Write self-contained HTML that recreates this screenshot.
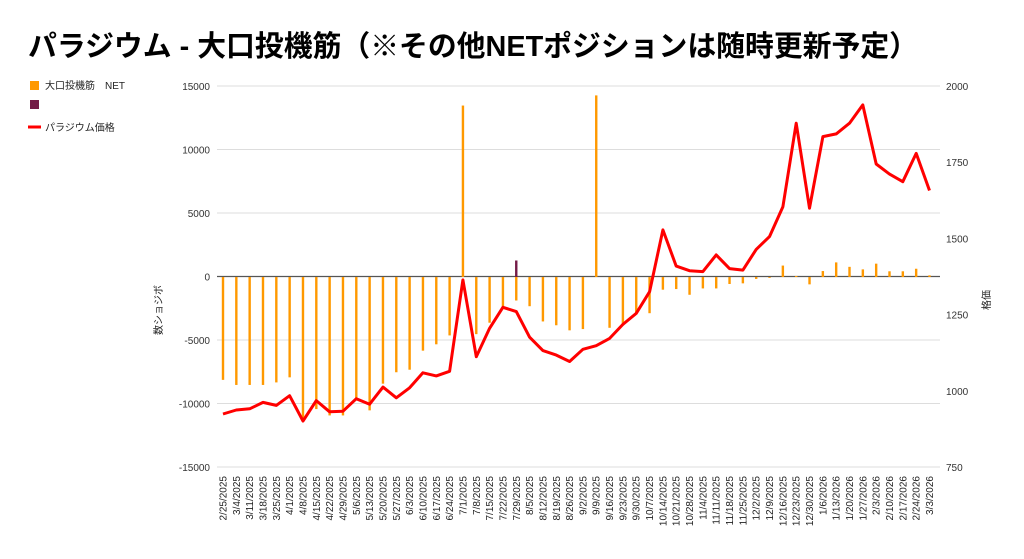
<!DOCTYPE html>
<html><head><meta charset="utf-8"><style>
body{margin:0;background:#fff;width:1024px;height:554px;overflow:hidden;font-family:"Liberation Sans","Noto Sans CJK JP",sans-serif}
</style></head><body>
<svg id="s" width="1024" height="554" xmlns="http://www.w3.org/2000/svg" font-family="Liberation Sans, Noto Sans CJK JP, sans-serif">
<text x="28" y="56" font-size="29" font-weight="bold" fill="#000" textLength="890" lengthAdjust="spacingAndGlyphs">パラジウム - 大口投機筋（※その他NETポジションは随時更新予定）</text>
<rect x="30" y="81" width="9" height="9" fill="#ff9900"/>
<text x="45" y="89" font-size="10" fill="#222">大口投機筋　NET</text>
<rect x="30" y="100" width="9" height="9" fill="#741b47"/>
<line x1="28" y1="127" x2="41" y2="127" stroke="#ff0000" stroke-width="3"/>
<text x="45" y="131" font-size="10" fill="#222">パラジウム価格</text>
<text transform="translate(162,310) rotate(-90)" font-size="10" text-anchor="middle" fill="#222">数ショジボ</text>
<text transform="translate(990,300) rotate(-90)" font-size="10" text-anchor="middle" fill="#222">格価</text>
<g id="g"></g>
</svg>
<script>
var ns="http://www.w3.org/2000/svg",g=document.getElementById("g");
function el(t,a,tx){var e=document.createElementNS(ns,t);for(var k in a)e.setAttribute(k,a[k]);if(tx!==undefined)e.textContent=tx;g.appendChild(e);return e;}
var X0=217,X1=940;
for(var i=0;i<=6;i++){var v=15000-5000*i,y=86+i*63.5;
el("line",{x1:X0,x2:X1,y1:y,y2:y,stroke:v==0?"#555":"#ddd","stroke-width":v==0?1.2:1});
el("text",{x:210,y:y+4,"font-size":10,"text-anchor":"end",fill:"#333"},v);}
for(var k=0;k<=5;k++){el("text",{x:946,y:86+k*76.2+4,"font-size":10,fill:"#333"},2000-250*k);}
var dates="2/25/2025 3/4/2025 3/11/2025 3/18/2025 3/25/2025 4/1/2025 4/8/2025 4/15/2025 4/22/2025 4/29/2025 5/6/2025 5/13/2025 5/20/2025 5/27/2025 6/3/2025 6/10/2025 6/17/2025 6/24/2025 7/1/2025 7/8/2025 7/15/2025 7/22/2025 7/29/2025 8/5/2025 8/12/2025 8/19/2025 8/26/2025 9/2/2025 9/9/2025 9/16/2025 9/23/2025 9/30/2025 10/7/2025 10/14/2025 10/21/2025 10/28/2025 11/4/2025 11/11/2025 11/18/2025 11/25/2025 12/2/2025 12/9/2025 12/16/2025 12/23/2025 12/30/2025 1/6/2026 1/13/2026 1/20/2026 1/27/2026 2/3/2026 2/10/2026 2/17/2026 2/24/2026 3/3/2026".split(" ");
var net=[-8100,-8500,-8500,-8500,-8300,-7900,-11200,-10400,-10900,-10900,-9500,-10500,-8400,-7500,-7300,-5800,-5300,-4600,13500,-4500,-3600,-2300,-1850,-2300,-3500,-3800,-4200,-4100,14300,-4000,-3800,-2850,-2850,-1000,-950,-1400,-900,-900,-550,-500,-150,-70,900,80,-580,470,1150,800,600,1050,450,450,650,130];
var pr=[924,937,941,962,952,984,901,968,931,933,974,956,1012,977,1010,1059,1049,1064,1364,1112,1205,1274,1260,1176,1132,1117,1096,1136,1148,1172,1218,1254,1325,1528,1409,1394,1391,1446,1401,1396,1464,1506,1604,1878,1599,1834,1843,1878,1938,1744,1711,1686,1779,1657];
function xi(i){return 223+i*13.33;}
function yn(v){return 277-v*0.0127;}
function yp(p){return 86+(2000-p)*0.3048;}
for(var i=0;i<54;i++){var x=xi(i),a=yn(net[i]);
el("rect",{x:x-1.2,y:Math.min(a,277),width:2.4,height:Math.abs(a-277)||0.5,fill:"#ff9900"});
el("text",{transform:"translate("+(x+3.5)+",476) rotate(-90)","font-size":10,"text-anchor":"end",fill:"#222"},dates[i]);}
el("rect",{x:xi(22)-1.2,y:yn(1300),width:2.4,height:277-yn(1300),fill:"#741b47"});
var d="";for(var i=0;i<54;i++)d+=(i?"L":"M")+xi(i).toFixed(1)+","+yp(pr[i]).toFixed(1);
el("path",{d:d,fill:"none",stroke:"#ff0000","stroke-width":3,"stroke-linejoin":"round"});
</script>
</body></html>
